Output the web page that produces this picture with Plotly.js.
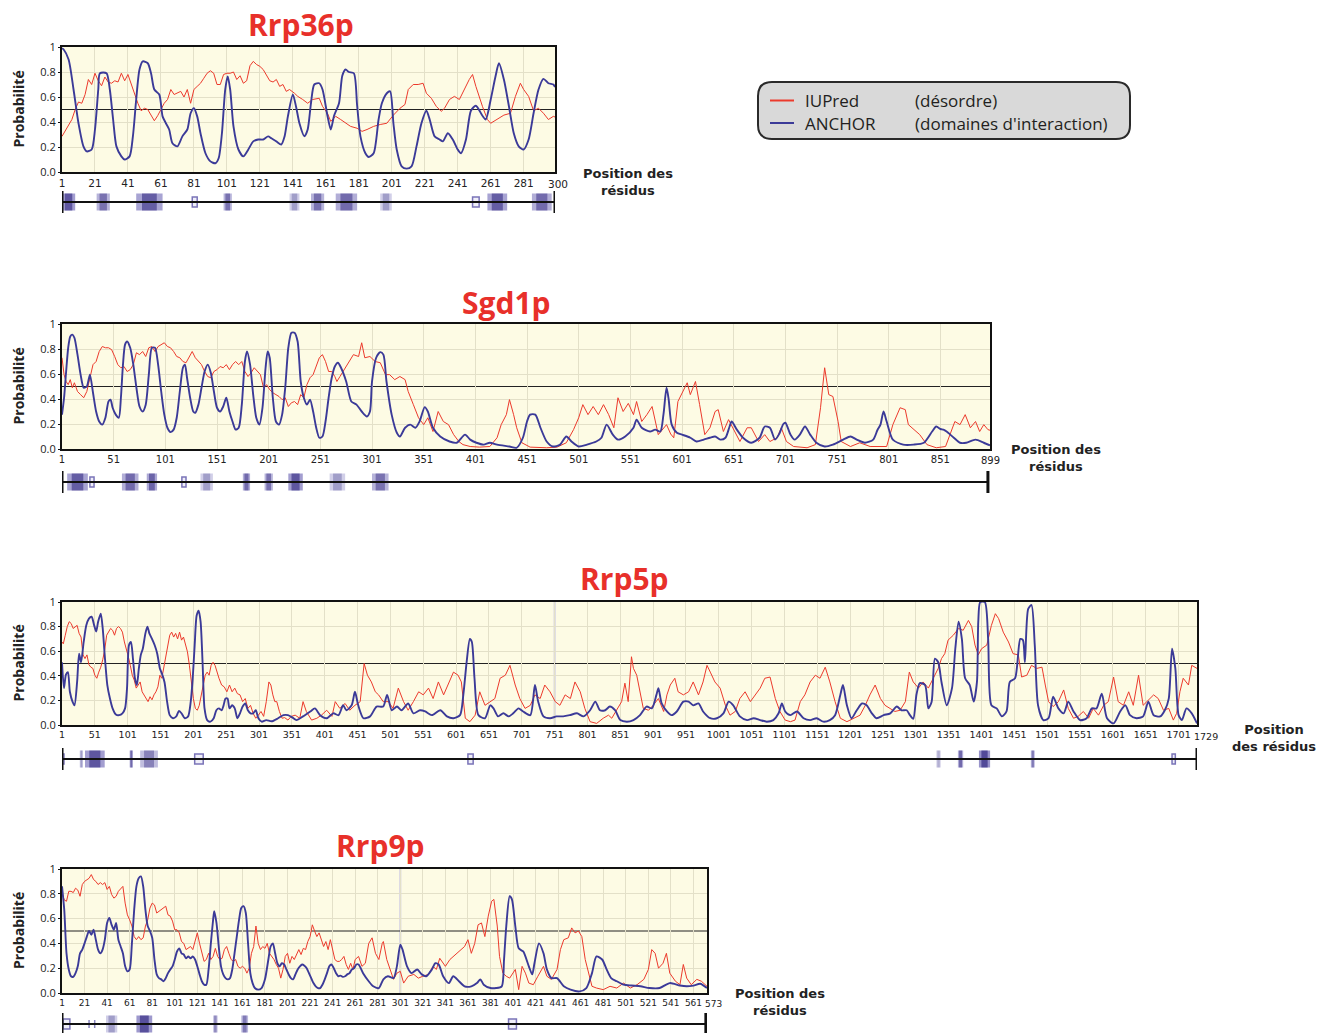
<!DOCTYPE html>
<html><head><meta charset="utf-8">
<script src="https://cdn.plot.ly/plotly-3.0.1.min.js"></script>
<style>body{margin:0;background:#fff}#chart{width:1330px;height:1033px}</style>
</head><body><div id="chart"></div>
<script>
// ---------------- DATA ----------------
const prob_ticks = [0, 0.2, 0.4, 0.6, 0.8, 1];
const prob_labels = ['0.0', '0.2', '0.4', '0.6', '0.8', '1'];

const rrp36_ticks = [1,21,41,61,81,101,121,141,161,181,201,221,241,261,281,300];
const sgd1_ticks = [1,51,101,151,201,251,301,351,401,451,501,551,601,651,701,751,801,851,899];
const rrp5_ticks = [1,51,101,151,201,251,301,351,401,451,501,551,601,651,701,751,801,851,901,951,1001,1051,1101,1151,1201,1251,1301,1351,1401,1451,1501,1551,1601,1651,1701,1729];
const rrp9_ticks = [1,21,41,61,81,101,121,141,161,181,201,221,241,261,281,301,321,341,361,381,401,421,441,461,481,501,521,541,561,573];

// IUPred (désordre) – [position, probabilité]
const rrp36_iupred = [[1,.285],[3,.33],[5,.38],[7,.42],[9,.50],[11,.56],[13,.55],[15,.62],[17,.74],[19,.70],[21,.79],[23,.73],[25,.69],[27,.76],[29,.72],[31,.71],[33,.73],[35,.72],[37,.79],[39,.73],[41,.78],[43,.70],[45,.63],[47,.55],[49,.49],[51,.51],[53,.50],[55,.46],[57,.41],[59,.45],[61,.50],[63,.55],[65,.58],[67,.66],[69,.62],[71,.63],[73,.645],[75,.60],[77,.66],[79,.55],[81,.66],[83,.685],[85,.71],[87,.75],[89,.79],[91,.81],[93,.79],[95,.70],[97,.70],[99,.78],[101,.79],[103,.79],[105,.80],[107,.74],[109,.77],[111,.71],[113,.73],[115,.85],[117,.885],[119,.86],[121,.845],[123,.82],[125,.77],[127,.73],[129,.72],[131,.74],[133,.685],[135,.70],[137,.645],[139,.66],[142,.63],[144,.605],[147,.58],[150,.55],[153,.58],[157,.59],[159,.525],[162,.47],[164,.405],[167,.445],[170,.42],[173,.39],[176,.365],[180,.35],[183,.325],[186,.34],[190,.365],[194,.38],[198,.39],[202,.455],[206,.51],[209,.54],[211,.66],[214,.70],[217,.70],[220,.71],[222,.63],[225,.59],[228,.525],[231,.485],[233,.51],[236,.58],[239,.605],[242,.58],[245,.66],[248,.74],[250,.78],[252,.685],[256,.525],[259,.42],[261,.39],[265,.42],[269,.455],[273,.47],[276,.605],[279,.71],[281,.66],[284,.605],[287,.49],[290,.51],[293,.47],[296,.42],[299,.445],[300,.44]];

const sgd1_iupred = [[1,.73],[3,.595],[5,.54],[7,.515],[9,.555],[11,.49],[13,.53],[16,.46],[19,.435],[22,.41],[25,.46],[28,.57],[31,.675],[34,.70],[37,.78],[40,.82],[43,.81],[46,.81],[49,.795],[52,.74],[55,.675],[58,.65],[61,.66],[64,.62],[67,.635],[70,.675],[73,.77],[76,.755],[79,.78],[82,.74],[85,.81],[88,.82],[91,.78],[94,.82],[97,.835],[100,.85],[103,.82],[106,.81],[109,.78],[112,.74],[115,.73],[118,.70],[121,.69],[124,.73],[127,.78],[130,.73],[133,.70],[136,.675],[139,.62],[142,.58],[145,.57],[148,.62],[151,.635],[154,.66],[157,.65],[160,.675],[163,.635],[166,.675],[169,.70],[172,.675],[175,.70],[178,.62],[181,.58],[184,.61],[187,.65],[190,.62],[193,.595],[196,.49],[199,.515],[202,.475],[205,.45],[208,.435],[211,.42],[214,.395],[217,.41],[220,.34],[223,.37],[226,.38],[229,.355],[232,.435],[235,.41],[238,.515],[241,.57],[244,.595],[247,.66],[250,.73],[253,.755],[256,.70],[259,.62],[262,.62],[265,.58],[267,.54],[270,.58],[273,.62],[278,.69],[283,.755],[288,.74],[291,.85],[294,.73],[299,.74],[304,.70],[309,.69],[314,.595],[318,.595],[323,.555],[328,.58],[333,.555],[336,.46],[341,.355],[346,.25],[351,.195],[355,.25],[360,.14],[365,.30],[370,.22],[375,.195],[380,.115],[385,.06],[389,.035],[396,.02],[405,.015],[415,.02],[422,.09],[426,.195],[431,.275],[434,.395],[438,.275],[441,.17],[446,.05],[454,.015],[470,.01],[480,.015],[489,.05],[496,.155],[501,.25],[505,.355],[510,.275],[515,.34],[520,.275],[525,.355],[530,.275],[535,.17],[539,.41],[544,.30],[549,.365],[554,.275],[557,.38],[562,.22],[567,.275],[572,.34],[578,.115],[583,.17],[586,.195],[590,.12],[593,.09],[597,.38],[602,.46],[606,.53],[609,.435],[614,.54],[618,.355],[623,.115],[628,.17],[633,.30],[636,.315],[641,.14],[646,.235],[651,.155],[657,.06],[664,.17],[668,.17],[675,.06],[681,.115],[686,.06],[693,.09],[697,.17],[702,.06],[709,.02],[722,.01],[730,.035],[735,.33],[739,.65],[743,.435],[747,.42],[752,.22],[755,.06],[764,.02],[773,.05],[783,.02],[799,.02],[805,.195],[812,.33],[817,.315],[820,.195],[825,.155],[831,.115],[838,.035],[847,.01],[856,.02],[860,.115],[865,.22],[870,.195],[875,.275],[880,.17],[885,.22],[889,.14],[893,.195],[897,.155],[899,.15]];

const rrp5_iupred = [[1,.675],[3,.66],[6,.73],[9,.80],[12,.84],[15,.825],[18,.785],[21,.80],[24,.81],[27,.745],[30,.715],[33,.57],[36,.54],[39,.57],[42,.49],[45,.47],[48,.46],[51,.405],[54,.38],[57,.43],[60,.47],[63,.53],[66,.61],[69,.73],[72,.755],[75,.785],[78,.77],[81,.73],[84,.785],[87,.80],[90,.785],[93,.755],[96,.675],[99,.62],[102,.555],[105,.485],[108,.405],[111,.365],[114,.30],[117,.325],[120,.35],[123,.27],[126,.245],[129,.215],[132,.19],[135,.23],[138,.205],[141,.245],[144,.27],[147,.31],[150,.405],[153,.38],[156,.47],[159,.555],[162,.66],[165,.73],[168,.755],[171,.715],[174,.745],[177,.70],[180,.755],[183,.69],[186,.715],[189,.66],[192,.595],[195,.485],[198,.325],[201,.215],[204,.135],[207,.12],[210,.16],[213,.245],[216,.325],[219,.405],[222,.43],[225,.405],[228,.485],[231,.51],[234,.485],[237,.43],[240,.38],[244,.325],[248,.31],[252,.27],[256,.325],[260,.27],[264,.30],[268,.255],[272,.245],[276,.19],[280,.215],[284,.135],[288,.16],[292,.095],[296,.055],[300,.08],[304,.11],[308,.07],[312,.19],[316,.35],[319,.325],[322,.245],[325,.19],[328,.19],[332,.11],[336,.055],[340,.06],[345,.04],[350,.07],[356,.08],[363,.055],[368,.19],[373,.11],[381,.04],[389,.055],[396,.08],[404,.12],[412,.07],[417,.19],[424,.135],[432,.175],[439,.12],[447,.16],[455,.19],[461,.50],[466,.405],[472,.35],[478,.27],[483,.245],[490,.19],[498,.19],[505,.135],[513,.30],[521,.19],[528,.12],[536,.19],[544,.27],[551,.245],[559,.30],[566,.215],[574,.35],[582,.245],[589,.325],[597,.43],[604,.405],[609,.35],[615,.055],[622,.027],[630,.08],[637,.27],[645,.16],[653,.19],[660,.215],[668,.38],[676,.405],[683,.485],[691,.325],[698,.215],[706,.135],[714,.16],[721,.245],[729,.215],[736,.325],[744,.27],[752,.19],[759,.16],[767,.245],[775,.215],[782,.35],[790,.27],[797,.135],[805,.027],[815,.013],[825,.055],[833,.08],[838,.055],[845,.12],[853,.19],[858,.34],[863,.19],[868,.555],[871,.46],[876,.405],[881,.27],[886,.135],[894,.12],[901,.16],[909,.215],[917,.11],[922,.245],[927,.325],[934,.38],[939,.27],[947,.245],[955,.27],[962,.35],[970,.245],[977,.35],[983,.485],[988,.43],[995,.35],[1003,.30],[1011,.16],[1018,.08],[1026,.11],[1033,.215],[1041,.27],[1049,.19],[1056,.245],[1064,.30],[1071,.38],[1079,.39],[1087,.215],[1094,.11],[1102,.04],[1110,.027],[1117,.04],[1125,.19],[1132,.245],[1140,.35],[1148,.405],[1155,.38],[1163,.47],[1170,.35],[1178,.19],[1186,.055],[1196,.027],[1206,.055],[1216,.08],[1224,.16],[1231,.245],[1239,.325],[1247,.215],[1254,.16],[1262,.135],[1269,.11],[1277,.12],[1285,.19],[1291,.43],[1297,.35],[1305,.30],[1312,.35],[1320,.30],[1328,.38],[1335,.46],[1340,.54],[1345,.58],[1350,.69],[1358,.73],[1366,.785],[1373,.77],[1381,.85],[1386,.80],[1391,.65],[1396,.57],[1401,.62],[1409,.65],[1416,.81],[1422,.905],[1427,.865],[1434,.755],[1442,.675],[1449,.58],[1457,.57],[1462,.39],[1470,.405],[1477,.485],[1485,.46],[1493,.47],[1498,.325],[1503,.19],[1510,.15],[1518,.19],[1526,.285],[1533,.135],[1541,.055],[1548,.07],[1556,.11],[1564,.055],[1571,.135],[1579,.08],[1587,.16],[1594,.19],[1602,.39],[1609,.19],[1617,.16],[1625,.27],[1632,.16],[1640,.405],[1647,.16],[1655,.20],[1663,.245],[1670,.215],[1678,.12],[1686,.135],[1693,.04],[1698,.095],[1703,.27],[1708,.38],[1716,.325],[1721,.485],[1729,.46]];

const rrp9_iupred = [[1,.81],[3,.75],[5,.74],[7,.82],[9,.82],[11,.81],[13,.845],[15,.83],[17,.78],[19,.875],[21,.90],[23,.915],[25,.925],[27,.955],[29,.915],[31,.90],[33,.875],[35,.89],[37,.875],[39,.89],[41,.835],[43,.86],[45,.795],[47,.765],[49,.78],[51,.82],[53,.845],[55,.86],[57,.725],[59,.63],[61,.59],[63,.54],[65,.455],[67,.43],[69,.455],[71,.43],[73,.445],[75,.54],[77,.59],[79,.685],[81,.725],[83,.71],[85,.645],[87,.66],[89,.67],[91,.685],[93,.70],[95,.63],[97,.62],[99,.58],[101,.51],[103,.51],[105,.485],[107,.415],[109,.40],[111,.35],[113,.36],[115,.375],[117,.35],[119,.415],[121,.485],[123,.40],[125,.335],[127,.255],[129,.27],[131,.32],[133,.27],[135,.295],[137,.36],[139,.295],[141,.27],[143,.28],[145,.35],[147,.375],[149,.32],[151,.27],[153,.255],[155,.27],[157,.215],[159,.20],[161,.215],[163,.20],[165,.16],[167,.20],[169,.32],[171,.375],[173,.54],[175,.40],[177,.35],[179,.375],[181,.36],[183,.40],[185,.32],[187,.295],[189,.27],[191,.23],[193,.20],[195,.12],[197,.19],[199,.295],[201,.32],[203,.24],[205,.295],[207,.27],[209,.31],[211,.35],[213,.31],[215,.36],[217,.35],[219,.415],[221,.455],[223,.55],[225,.50],[227,.455],[229,.485],[231,.43],[233,.375],[235,.415],[237,.35],[239,.43],[241,.36],[243,.27],[245,.255],[247,.255],[249,.27],[251,.295],[253,.23],[255,.19],[257,.24],[259,.19],[261,.27],[264,.295],[267,.215],[270,.24],[273,.40],[276,.445],[279,.32],[282,.27],[285,.40],[286,.415],[289,.27],[292,.19],[295,.11],[298,.16],[301,.175],[304,.08],[308,.135],[313,.15],[317,.12],[321,.135],[326,.15],[330,.215],[333,.19],[336,.28],[341,.215],[345,.27],[350,.31],[354,.35],[358,.375],[361,.43],[364,.32],[367,.40],[370,.55],[373,.565],[376,.455],[379,.62],[382,.74],[384,.755],[387,.54],[389,.295],[392,.16],[395,.135],[398,.12],[403,.19],[406,.027],[409,.215],[412,.16],[415,.08],[419,.067],[423,.135],[428,.215],[431,.135],[435,.11],[440,.19],[443,.35],[446,.43],[450,.445],[453,.525],[456,.485],[459,.50],[462,.455],[465,.27],[468,.16],[471,.054],[475,.04],[481,.027],[487,.054],[493,.04],[499,.08],[505,.04],[511,.067],[517,.11],[521,.19],[524,.35],[527,.32],[530,.20],[534,.24],[537,.32],[540,.16],[545,.095],[549,.067],[552,.23],[555,.12],[559,.067],[564,.11],[568,.095],[573,.054]];

// ANCHOR (domaines d'interaction) – [position, probabilité]
const rrp36_anchor = [[1,.99],[2,.98],[5,.9],[8,.66],[11,.39],[14,.205],[16,.165],[19,.18],[21,.34],[23,.66],[24,.79],[28,.79],[30,.66],[32,.42],[34,.205],[37,.125],[39,.10],[42,.125],[44,.285],[46,.58],[48,.82],[50,.885],[53,.87],[55,.79],[57,.66],[60,.62],[62,.445],[64,.39],[66,.34],[68,.23],[71,.205],[74,.285],[77,.34],[79,.47],[81,.51],[83,.445],[85,.31],[88,.15],[91,.085],[94,.07],[96,.11],[98,.31],[100,.66],[101.5,.765],[103,.66],[105,.365],[108,.18],[111,.125],[114,.18],[117,.245],[120,.26],[123,.26],[126,.285],[128,.27],[131,.245],[134,.22],[136,.285],[138,.445],[141,.62],[143,.52],[145,.39],[148,.285],[150,.34],[152,.55],[154,.70],[157,.71],[159,.66],[162,.45],[164,.34],[166,.45],[169,.55],[171,.77],[173,.82],[175,.80],[178,.79],[180,.53],[182,.285],[185,.15],[187,.12],[190,.15],[193,.42],[195,.55],[198,.63],[200,.645],[202,.39],[204,.18],[207,.045],[210,.027],[213,.045],[216,.205],[219,.39],[222,.49],[224,.42],[227,.285],[230,.26],[232,.245],[235,.31],[238,.26],[241,.18],[243,.15],[246,.26],[249,.49],[252,.53],[256,.45],[258,.42],[261,.58],[264,.77],[266,.87],[269,.74],[272,.53],[275,.31],[278,.205],[281,.18],[284,.26],[287,.47],[290,.66],[293,.745],[296,.71],[299,.70],[300,.68]];

const sgd1_anchor = [[1,.275],[3,.41],[5,.62],[7,.81],[9,.90],[11,.915],[13,.89],[16,.755],[19,.595],[22,.49],[25,.50],[28,.595],[31,.45],[34,.30],[37,.22],[40,.195],[43,.25],[46,.38],[48,.395],[50,.33],[53,.275],[56,.25],[58,.41],[60,.675],[62,.835],[64,.86],[67,.81],[70,.675],[73,.49],[76,.34],[79,.30],[82,.355],[85,.595],[88,.81],[91,.81],[94,.675],[97,.46],[100,.275],[103,.17],[106,.135],[109,.155],[112,.25],[115,.46],[118,.65],[120,.675],[122,.57],[125,.41],[128,.30],[130,.29],[133,.355],[136,.49],[139,.62],[142,.675],[145,.61],[148,.46],[151,.33],[154,.30],[157,.34],[160,.41],[163,.30],[166,.22],[169,.155],[172,.17],[175,.355],[178,.70],[180,.78],[183,.675],[186,.435],[189,.25],[192,.195],[195,.33],[198,.65],[200,.78],[202,.73],[205,.41],[208,.22],[211,.195],[214,.275],[217,.49],[220,.81],[223,.93],[226,.93],[229,.86],[232,.54],[235,.41],[238,.355],[241,.395],[244,.30],[247,.17],[250,.09],[253,.10],[256,.22],[259,.41],[262,.57],[265,.66],[268,.69],[271,.65],[276,.54],[281,.38],[286,.355],[291,.30],[296,.26],[299,.30],[301,.54],[305,.73],[309,.775],[312,.755],[315,.54],[320,.275],[325,.13],[328,.10],[333,.17],[338,.195],[343,.17],[347,.22],[352,.335],[355,.30],[360,.17],[367,.10],[376,.06],[383,.05],[391,.115],[396,.075],[402,.05],[409,.035],[415,.05],[422,.035],[434,.02],[441,.01],[447,.09],[451,.22],[454,.275],[459,.275],[464,.17],[470,.06],[476,.02],[483,.035],[489,.10],[494,.06],[501,.02],[509,.035],[518,.06],[523,.09],[528,.195],[534,.115],[539,.075],[546,.10],[554,.17],[557,.235],[562,.17],[570,.14],[575,.155],[580,.14],[583,.275],[586,.49],[588,.40],[591,.195],[596,.13],[601,.115],[609,.09],[615,.06],[622,.075],[628,.09],[633,.10],[638,.075],[643,.09],[647,.18],[649,.22],[654,.155],[660,.09],[668,.05],[676,.09],[681,.18],[686,.17],[691,.075],[695,.12],[699,.20],[701,.21],[706,.115],[710,.075],[715,.115],[720,.18],[725,.115],[731,.05],[739,.02],[747,.035],[757,.075],[764,.10],[770,.075],[778,.05],[786,.075],[790,.15],[793,.195],[796,.30],[799,.22],[805,.075],[815,.035],[825,.035],[835,.05],[843,.14],[847,.18],[851,.16],[854,.155],[857,.14],[864,.09],[870,.05],[876,.05],[885,.075],[893,.05],[899,.03]];

const rrp5_anchor = [[1,.51],[4,.30],[7,.41],[10,.43],[13,.27],[17,.19],[20,.16],[24,.35],[27,.58],[30,.51],[34,.675],[38,.81],[42,.865],[46,.88],[50,.81],[53,.76],[56,.84],[60,.905],[63,.785],[66,.57],[70,.325],[74,.215],[78,.135],[83,.085],[88,.08],[93,.095],[97,.135],[100,.30],[103,.65],[106,.675],[109,.54],[112,.38],[115,.325],[118,.46],[121,.57],[124,.62],[128,.745],[131,.80],[134,.745],[138,.70],[142,.65],[146,.58],[150,.46],[153,.42],[157,.35],[161,.19],[165,.08],[170,.055],[175,.07],[179,.115],[183,.095],[188,.055],[193,.07],[197,.19],[200,.38],[203,.65],[206,.89],[209,.93],[212,.84],[215,.51],[218,.135],[222,.04],[227,.027],[232,.055],[236,.12],[240,.135],[244,.12],[247,.16],[250,.215],[253,.215],[256,.135],[260,.16],[264,.135],[268,.055],[272,.095],[276,.15],[280,.175],[284,.12],[288,.095],[292,.095],[296,.12],[300,.055],[305,.027],[312,.04],[320,.03],[330,.055],[338,.08],[345,.08],[352,.06],[358,.04],[368,.07],[379,.11],[386,.135],[394,.08],[404,.055],[414,.095],[422,.08],[429,.16],[434,.12],[442,.16],[447,.27],[452,.16],[460,.055],[470,.07],[480,.15],[490,.15],[496,.245],[503,.12],[511,.15],[518,.12],[528,.175],[536,.095],[546,.12],[554,.11],[564,.08],[577,.12],[587,.07],[597,.055],[607,.08],[612,.245],[617,.51],[622,.70],[625,.675],[629,.38],[635,.08],[645,.055],[653,.16],[658,.135],[665,.07],[673,.095],[681,.07],[688,.095],[696,.135],[703,.11],[714,.08],[721,.325],[726,.19],[734,.07],[744,.055],[754,.07],[764,.07],[774,.08],[785,.095],[795,.07],[805,.12],[813,.19],[820,.12],[828,.12],[835,.15],[843,.12],[851,.04],[861,.027],[871,.04],[881,.08],[891,.15],[899,.135],[906,.245],[909,.30],[914,.175],[922,.11],[929,.08],[937,.11],[947,.19],[955,.19],[962,.16],[970,.175],[977,.11],[988,.055],[998,.055],[1008,.095],[1016,.19],[1023,.16],[1033,.07],[1044,.04],[1054,.055],[1064,.04],[1074,.027],[1084,.04],[1092,.095],[1097,.175],[1102,.11],[1110,.08],[1120,.11],[1130,.055],[1140,.04],[1150,.055],[1160,.027],[1170,.04],[1178,.08],[1186,.245],[1190,.325],[1196,.16],[1203,.055],[1211,.12],[1219,.175],[1226,.16],[1234,.095],[1241,.055],[1252,.08],[1262,.095],[1272,.15],[1279,.12],[1287,.12],[1292,.08],[1297,.05],[1302,.25],[1307,.34],[1315,.325],[1320,.135],[1325,.19],[1330,.54],[1335,.51],[1340,.35],[1348,.16],[1356,.30],[1361,.62],[1366,.84],[1371,.70],[1376,.38],[1383,.325],[1389,.19],[1394,.35],[1396,.84],[1399,1.0],[1406,1.0],[1411,.70],[1416,.16],[1424,.135],[1432,.07],[1439,.11],[1444,.35],[1452,.38],[1460,.70],[1464,.69],[1467,.51],[1472,.945],[1477,.975],[1482,.65],[1487,.16],[1495,.04],[1503,.055],[1510,.23],[1518,.135],[1526,.095],[1533,.19],[1541,.11],[1551,.04],[1561,.055],[1569,.135],[1576,.135],[1584,.255],[1592,.055],[1602,.013],[1612,.11],[1620,.16],[1627,.08],[1637,.055],[1647,.07],[1655,.19],[1663,.08],[1673,.07],[1680,.12],[1686,.215],[1691,.62],[1696,.46],[1701,.08],[1706,.04],[1713,.135],[1721,.095],[1729,.013]];

const rrp9_anchor = [[1,.86],[3,.67],[5,.32],[7,.19],[9,.135],[11,.13],[13,.16],[15,.215],[17,.32],[19,.35],[21,.40],[23,.455],[25,.50],[27,.47],[29,.51],[31,.43],[33,.35],[35,.32],[37,.35],[39,.43],[41,.565],[43,.605],[45,.55],[47,.51],[49,.565],[51,.43],[53,.375],[55,.32],[57,.215],[59,.175],[61,.19],[63,.40],[65,.67],[67,.86],[69,.925],[71,.94],[73,.86],[75,.67],[77,.54],[79,.50],[81,.445],[83,.27],[85,.15],[87,.12],[89,.11],[91,.095],[93,.12],[95,.16],[97,.19],[99,.215],[101,.27],[103,.335],[105,.36],[107,.32],[109,.31],[111,.28],[113,.295],[115,.28],[117,.295],[119,.27],[121,.215],[123,.15],[125,.095],[127,.067],[129,.067],[131,.19],[133,.40],[135,.59],[136,.66],[138,.565],[140,.375],[142,.215],[144,.15],[146,.12],[148,.11],[150,.12],[152,.19],[154,.32],[156,.455],[158,.59],[160,.685],[162,.70],[164,.645],[166,.40],[168,.16],[170,.08],[172,.04],[175,.027],[178,.04],[181,.11],[184,.27],[186,.375],[188,.40],[190,.32],[192,.24],[194,.215],[196,.24],[198,.23],[200,.19],[202,.15],[204,.12],[206,.11],[208,.15],[210,.19],[212,.215],[214,.23],[216,.22],[218,.20],[220,.16],[222,.12],[224,.08],[226,.054],[228,.04],[230,.04],[232,.067],[234,.11],[236,.16],[238,.215],[240,.23],[242,.20],[244,.16],[246,.135],[248,.14],[250,.13],[252,.135],[254,.15],[256,.16],[258,.19],[260,.20],[262,.23],[264,.23],[268,.16],[273,.095],[277,.054],[282,.04],[286,.11],[290,.135],[295,.12],[298,.215],[301,.39],[303,.35],[307,.215],[311,.16],[316,.19],[320,.15],[324,.135],[329,.19],[332,.24],[335,.23],[339,.135],[344,.08],[348,.135],[353,.095],[358,.054],[364,.054],[369,.08],[372,.11],[375,.067],[381,.04],[386,.04],[391,.054],[393,.27],[395,.54],[398,.78],[400,.755],[403,.54],[406,.36],[410,.335],[415,.215],[418,.15],[420,.24],[424,.40],[428,.32],[431,.19],[435,.12],[440,.12],[446,.054],[452,.027],[460,.013],[466,.04],[471,.16],[475,.295],[480,.27],[484,.19],[488,.12],[493,.095],[499,.067],[506,.06],[514,.054],[522,.04],[531,.04],[540,.08],[549,.06],[555,.054],[561,.06],[567,.075],[573,.04]];

// Domain bars: [start, end, intensity] and outlined boxes [start, end]
const rrp36_domains = [[1,9,0.9],[22,30,0.7],[46,62,0.85],[99,104,0.7],[139,145,0.45],[152,160,0.7],[167,180,0.75],[194,201,0.45],[259,271,0.85],[286,298,0.75]];
const rrp36_boxes = [[80,83],[250,254]];
const sgd1_domains = [[6,26,0.85],[59,75,0.75],[83,93,0.8],[135,147,0.45],[176,183,0.75],[197,205,0.7],[220,234,0.9],[260,275,0.45],[301,317,0.7]];
const sgd1_boxes = [[28,32],[117,121]];
const rrp5_domains = [[28,33,0.45],[36,66,0.9],[104,109,0.75],[120,147,0.6],[1332,1339,0.35],[1365,1373,0.75],[1397,1414,1.0],[1476,1482,0.65]];
const rrp5_boxes = [[1,4],[203,216],[619,627],[1691,1696]];
const rrp9_domains = [[40,50,0.45],[67,81,0.95],[135,139,0.55],[160,166,0.65]];
const rrp9_boxes = [[2,8],[397,404]];
const rrp9_marks = [25,30];

// ---------------- LAYOUT ----------------
const W = 1330, H = 1033;
const px = v => v / W, py = v => 1 - v / H;
const RED = '#ec3a2c', BLUE = '#3b3a98', TITLE_RED = '#e8302a';

const panels = [
  {title:'Rrp36p', n:300, iu:rrp36_iupred, an:rrp36_anchor, ticks:rrp36_ticks, dom:rrp36_domains, box:rrp36_boxes, marks:[], hl:null,
   L:62, R:555, T:47, B:172, barY:202, barEnd:300, tx:301, ty:24, posX:628, posY:182, posText:'Position des<br>résidus', tf:10.5, lastShift:3},
  {title:'Sgd1p', n:899, iu:sgd1_iupred, an:sgd1_anchor, ticks:sgd1_ticks, dom:sgd1_domains, box:sgd1_boxes, marks:[], hl:null,
   L:62, R:990, T:324, B:449, barY:482, barEnd:897, tx:506, ty:302, posX:1056, posY:458, posText:'Position des<br>résidus', tf:10, lastShift:0},
  {title:'Rrp5p', n:1729, iu:rrp5_iupred, an:rrp5_anchor, ticks:rrp5_ticks, dom:rrp5_domains, box:rrp5_boxes, marks:[], hl:751,
   L:62, R:1197, T:602, B:725, barY:759, barEnd:1729, tx:624, ty:578, posX:1274, posY:738, posText:'Position<br>des résidus', tf:9.5, lastShift:9},
  {title:'Rrp9p', n:573, iu:rrp9_iupred, an:rrp9_anchor, ticks:rrp9_ticks, dom:rrp9_domains, box:rrp9_boxes, marks:rrp9_marks, hl:301,
   L:62, R:707, T:869, B:993, barY:1024, barEnd:572, tx:381, ty:845, posX:780, posY:1002, posText:'Position des<br>résidus', tf:9, lastShift:6}
];

const data = [], shapes = [], annotations = [];
const layout = {
  width: W, height: H, margin: {l:0, r:0, t:0, b:0},
  paper_bgcolor: '#ffffff', plot_bgcolor: '#fdfbe4',
  showlegend: false, hovermode: false
};

panels.forEach((p, i) => {
  const s = i === 0 ? '' : String(i + 1);
  const xr = 'x' + s, yr = 'y' + s;
  const tickText = p.ticks.map((t, k) => k === p.ticks.length - 1 ? '' : String(t));
  layout['xaxis' + s] = {
    domain: [px(p.L), px(p.R)], range: [1, p.n], anchor: yr,
    tickmode: 'array', tickvals: p.ticks, ticktext: tickText, tickangle: 0,
    showgrid: true, gridcolor: '#e3e0c8', gridwidth: 1, zeroline: false,
    showline: true, mirror: true, linecolor: '#111', linewidth: 2,
    ticks: '',
    tickfont: {family: 'DejaVu Sans, Verdana, sans-serif', size: p.tf, color: '#222'},
    fixedrange: true
  };
  layout['yaxis' + s] = {
    domain: [py(p.B), py(p.T)], range: [0, 1], anchor: xr,
    tickmode: 'array', tickvals: prob_ticks, ticktext: prob_labels,
    showgrid: true, gridcolor: '#e3e0c8', gridwidth: 1, zeroline: false,
    showline: true, mirror: true, linecolor: '#111', linewidth: 2,
    ticks: 'outside', ticklen: 2, tickcolor: '#111',
    tickfont: {family: 'Open Sans, sans-serif', size: 11, color: '#222'},
    fixedrange: true
  };

  if (p.hl !== null) {
    shapes.push({type:'line', xref:xr, yref:yr, x0:p.hl, x1:p.hl, y0:0, y1:1, layer:'below',
                 line:{color:'#cfcce3', width:2}});
  }
  shapes.push({type:'line', xref:xr, yref:yr, x0:1, x1:p.n, y0:0.5, y1:0.5, layer:'below',
               line:{color:'#222', width:1}});

  data.push({type:'scatter', mode:'lines', xaxis:xr, yaxis:yr,
    x: p.iu.map(d => d[0]), y: p.iu.map(d => d[1]), line:{color:RED, width:1}, name:'IUPred'});
  data.push({type:'scatter', mode:'lines', xaxis:xr, yaxis:yr,
    x: p.an.map(d => d[0]), y: p.an.map(d => d[1]), line:{color:BLUE, width:1.9, shape:'spline', smoothing:0.7}, name:'ANCHOR'});

  const yb = p.barY;
  p.dom.forEach(d => {
    const [a, b, k] = d;
    shapes.push({type:'rect', xref:xr, yref:'paper', x0:a, x1:b, y0:py(yb + 8.5), y1:py(yb - 8.5),
                 line:{width:0}, fillcolor:`rgba(50,40,150,${(0.5 * k).toFixed(3)})`});
    const w = (b - a) * 0.22;
    shapes.push({type:'rect', xref:xr, yref:'paper', x0:a + w, x1:b - w, y0:py(yb + 8.5), y1:py(yb - 8.5),
                 line:{width:0}, fillcolor:`rgba(35,25,120,${(0.6 * k).toFixed(3)})`});
  });
  p.box.forEach(d => {
    shapes.push({type:'rect', xref:xr, yref:'paper', x0:d[0], x1:d[1], y0:py(yb + 5), y1:py(yb - 5),
                 line:{color:'#7a74b8', width:1.5}, fillcolor:'rgba(230,228,245,0.6)'});
  });
  p.marks.forEach(m => {
    shapes.push({type:'line', xref:xr, yref:'paper', x0:m, x1:m, y0:py(yb + 4), y1:py(yb - 4),
                 line:{color:'#8a86c0', width:1.5}});
  });
  shapes.push({type:'line', xref:xr, yref:'paper', x0:1, x1:p.barEnd, y0:py(yb), y1:py(yb), line:{color:'#111', width:2}});
  [1, p.barEnd].forEach(e => shapes.push({type:'line', xref:xr, yref:'paper', x0:e, x1:e,
      y0:py(yb + 11), y1:py(yb - 11), line:{color:'#111', width:3}}));

  // last tick label (shifted right as in the original)
  annotations.push({xref:xr, yref:'paper', x:p.n, y:py(p.B), xshift:p.lastShift, yshift:-4, showarrow:false,
    text:String(p.ticks[p.ticks.length - 1]), xanchor:'center', yanchor:'top',
    font:{family:'DejaVu Sans, Verdana, sans-serif', size:p.tf, color:'#222'}});
  annotations.push({xref:'paper', yref:'paper', x:px(p.tx), y:py(p.ty), showarrow:false,
    text:'<b>' + p.title + '</b>', xanchor:'center', yanchor:'middle',
    font:{family:'Open Sans, sans-serif', size:30, color:TITLE_RED}});
  annotations.push({xref:'paper', yref:'paper', x:px(18), y:py((p.T + p.B) / 2), showarrow:false,
    text:'<b>Probabilité</b>', textangle:-90, xanchor:'center', yanchor:'middle',
    font:{family:'Open Sans, sans-serif', size:14, color:'#222'}});
  annotations.push({xref:'paper', yref:'paper', x:px(p.posX), y:py(p.posY), showarrow:false,
    text:'<b>' + p.posText + '</b>', xanchor:'center', yanchor:'middle', align:'center',
    font:{family:'DejaVu Sans, Verdana, sans-serif', size:13, color:'#222'}});
});

// legend box
(function () {
  const x0 = px(758), x1 = px(1130), y0 = py(82), y1 = py(139);
  const rx = px(14), ry = 14 / H;
  const path = `M ${x0 + rx},${y0} L ${x1 - rx},${y0} Q ${x1},${y0} ${x1},${y0 - ry} L ${x1},${y1 + ry} Q ${x1},${y1} ${x1 - rx},${y1} L ${x0 + rx},${y1} Q ${x0},${y1} ${x0},${y1 + ry} L ${x0},${y0 - ry} Q ${x0},${y0} ${x0 + rx},${y0} Z`;
  shapes.push({type:'path', xref:'paper', yref:'paper', path: path, fillcolor:'#d9d9d9', line:{color:'#2a2a2a', width:2}});
  shapes.push({type:'line', xref:'paper', yref:'paper', x0:px(770), x1:px(794), y0:py(100.5), y1:py(100.5), line:{color:RED, width:2}});
  shapes.push({type:'line', xref:'paper', yref:'paper', x0:px(770), x1:px(794), y0:py(123), y1:py(123), line:{color:BLUE, width:2}});
  const lf = {family:'Open Sans, sans-serif', size:17, color:'#231f20'};
  [['IUPred', 803, 100], ['(désordre)', 913, 100], ['ANCHOR', 803, 123], ["(domaines d'interaction)", 913, 123]].forEach(t => {
    annotations.push({xref:'paper', yref:'paper', x:px(t[1]), y:py(t[2]), text:t[0], showarrow:false,
      xanchor:'left', yanchor:'middle', font:lf});
  });
})();

layout.shapes = shapes;
layout.annotations = annotations;

Plotly.newPlot('chart', data, layout, {staticPlot: true, displayModeBar: false});
</script>
</body></html>
